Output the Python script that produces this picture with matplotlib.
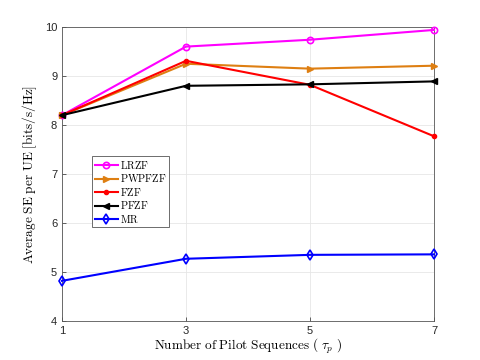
import numpy as np
import matplotlib
matplotlib.use('Agg')
import matplotlib.pyplot as plt

plt.rcParams['mathtext.fontset'] = 'cm'
plt.rcParams['font.family'] = ['Liberation Sans', 'DejaVu Sans']

# 数据
tau_p = [1, 3, 5, 7]
lrzf = [8.20, 9.60, 9.74, 9.94]
pwpfzf = [8.20, 9.25, 9.15, 9.21]
fzf = [8.20, 9.31, 8.82, 7.77]
pfzf = [8.20, 8.80, 8.83, 8.89]
mr = [4.82, 5.27, 5.35, 5.36]

fig = plt.figure(figsize=(4.8, 3.6), dpi=100)
ax = fig.add_axes([62/480, 1 - 321/360, 372/480, 294/360])

kw = dict(linewidth=1.5, clip_on=False, zorder=3)
ax.plot(tau_p, lrzf, color='#FF00FF', marker='o', markersize=4.5, markerfacecolor='none',
        markeredgewidth=1.2, label=r'$\mathrm{LRZF}$', **kw)
ax.plot(tau_p, pwpfzf, color='#DE7F12', marker='>', markersize=5,
        label=r'$\mathrm{PWPFZF}$', **kw)
ax.plot(tau_p, fzf, color='#FF0000', marker='.', markersize=6,
        label=r'$\mathrm{FZF}$', **kw)
ax.plot(tau_p, pfzf, color='black', marker='<', markersize=5,
        label=r'$\mathrm{PFZF}$', **kw)
ax.plot(tau_p, mr, color='#0000FF', marker='d', markersize=5, markerfacecolor='none',
        markeredgewidth=1.2, label=r'$\mathrm{MR}$', **kw)

ax.set_xlim(1, 7)
ax.set_ylim(4, 10)
ax.set_xticks(tau_p)
ax.set_yticks(range(4, 11))
ax.tick_params(labelsize=8, direction='in', length=3, width=0.5, colors='#262626', pad=3.5)
ax.grid(True, color='#e6e6e6', linewidth=0.6)
for s in ax.spines.values():
    s.set_linewidth(0.6)
    s.set_color('#555555')

ax.set_xlabel(r'$\mathrm{Number\ of\ Pilot\ Sequences\ (\ }\tau_p\mathrm{\ )}$', fontsize=9.5, labelpad=1)
ax.set_ylabel(r'$\mathrm{Average\ SE\ per\ UE\ [bits/s/Hz]}$', fontsize=9.5, labelpad=4)

leg = ax.legend(loc='upper left', bbox_to_anchor=(30/372, 1 - 129/294), fontsize=7.5,
                frameon=True, fancybox=False, edgecolor='#555555', handlelength=2.2,
                handletextpad=0.2, borderpad=0.25, labelspacing=0.15, borderaxespad=0,
                framealpha=1)
leg.get_frame().set_linewidth(0.6)

fig.savefig('out.png', dpi=100)
